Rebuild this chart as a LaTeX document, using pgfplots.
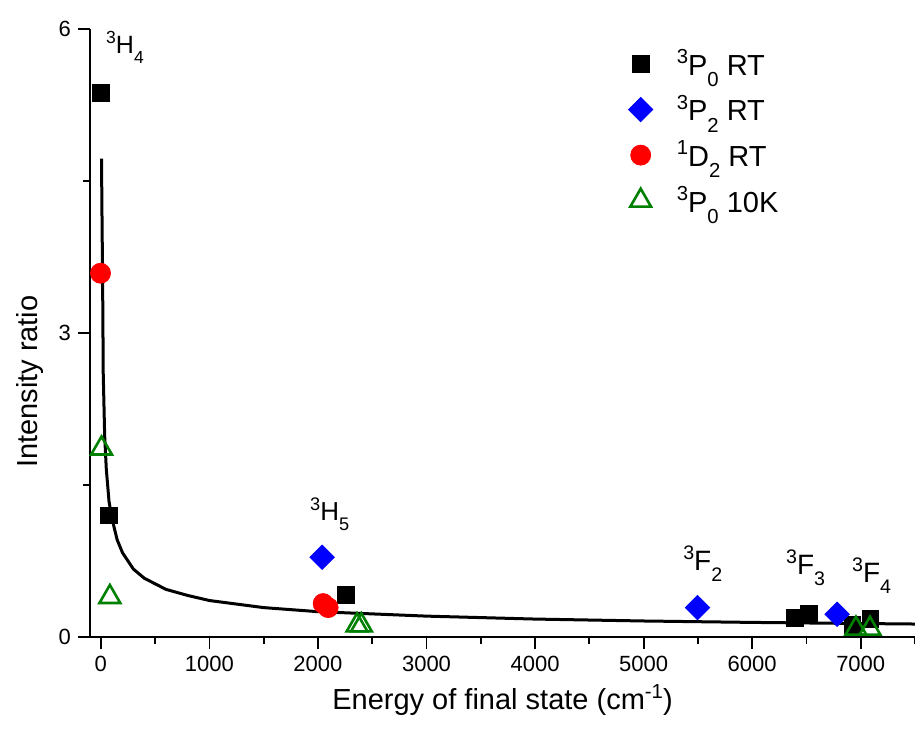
\documentclass[border=0pt]{standalone}
\usepackage{pgfplots}
\pgfplotsset{compat=1.18}
\usepackage{fontspec}
\setmainfont{Liberation Sans}
\newcommand{\sps}[1]{\raisebox{0.75ex}{\scalebox{0.7}{#1}}}
\newcommand{\sbs}[1]{\raisebox{-0.75ex}{\scalebox{0.7}{#1}}}
\definecolor{mygreen}{RGB}{0,128,0}
\begin{document}
\begin{tikzpicture}
\begin{axis}[
  name=ax,
  at={(0,0)}, anchor=south west,
  scale only axis,
  width=412.5pt, height=304pt,
  xmin=-100, xmax=7500,
  ymin=0, ymax=6,
  axis x line*=bottom, axis y line*=left,
  axis line style={line width=1pt},
  xtick={0,1000,...,7000},
  minor xtick={500,1500,...,7500},
  ytick={0,3,6},
  minor ytick={1.5,4.5},
  tick align=outside,
  major tick length=6pt,
  minor tick length=3.5pt,
  every tick/.style={line width=0.9pt, black},
  /pgf/number format/assume math mode=true,
  scaled x ticks=false,
  xticklabel style={/pgf/number format/1000 sep={}},
  tick label style={font=\fontsize{11}{13}\selectfont},
  xlabel={Energy of final state (cm\sps{-1})},
  ylabel={Intensity ratio},
  label style={font=\fontsize{14.5}{16}\selectfont},
  x label style={at={(axis description cs:0.5,-0.104)}, anchor=center},
  y label style={at={(axis description cs:-0.073,0.42)}, anchor=center, rotate=0},
  legend style={at={(rel axis cs:0.645,0.98)}, anchor=north west, draw=none,
    font=\fontsize{14.5}{16}\selectfont, row sep=4.5pt, column sep=10pt, fill=none},
  legend cell align=left,
  clip=false,
]
% fitted curve
\addplot[black, line width=1.5pt, forget plot] coordinates {
(6,4.72) (11,4.10) (16,3.55) (22,2.60) (35,1.99) (50,1.66) (75,1.34) (100,1.18)
(150,0.96) (200,0.83) (300,0.67) (400,0.58) (600,0.47) (800,0.41) (1000,0.36)
(1500,0.29) (2000,0.25) (3000,0.206) (4000,0.177) (5000,0.158) (6000,0.144)
(7000,0.133) (7500,0.128)
};
% 3P0 RT
\addplot[only marks, mark=square*, mark size=4.2pt, black] coordinates {
(-3,5.37) (74,1.20) (2257,0.414) (6394,0.185) (6523,0.225) (6924,0.118) (7090,0.178)
};
\addlegendentry{\sps{3}P\sbs{0} RT}
% 3P2 RT
\addplot[only marks, mark=square*, mark size=4.3pt, mark options={rotate=45}, blue] coordinates {
(2039,0.787) (5497,0.29) (6783,0.224)
};
\addlegendentry{\sps{3}P\sbs{2} RT}
% 1D2 RT
\addplot[only marks, mark=*, mark size=5pt, red] coordinates {
(-3,3.59) (2048,0.33) (2094,0.29)
};
\addlegendentry{\sps{1}D\sbs{2} RT}
% 3P0 10K
\addplot[only marks, mark=triangle, mark size=6pt, mygreen, mark options={line width=1.3pt}] coordinates {
(6,1.86) (83,0.395) (2360,0.115) (2400,0.115) (6956,0.082) (7085,0.082)
};
\addlegendentry{\sps{3}P\sbs{0} 10K}
% state labels
\node[anchor=west, font=\fontsize{12.5}{14}\selectfont, inner sep=0pt] at (axis cs:46,5.82) {\sps{3}H\sbs{4}};
\node[anchor=west, font=\fontsize{13}{14}\selectfont, inner sep=0pt] at (axis cs:1925,1.21) {\sps{3}H\sbs{5}};
\node[anchor=west, font=\fontsize{14}{16}\selectfont, inner sep=0pt] at (axis cs:5362,0.725) {\sps{3}F\sbs{2}};
\node[anchor=west, font=\fontsize{14}{16}\selectfont, inner sep=0pt] at (axis cs:6310,0.686) {\sps{3}F\sbs{3}};
\node[anchor=west, font=\fontsize{14}{16}\selectfont, inner sep=0pt] at (axis cs:6918,0.607) {\sps{3}F\sbs{4}};
\end{axis}
\pgfresetboundingbox
\useasboundingbox (-45pt,-50.5pt) rectangle (412.5pt,318.5pt);
\end{tikzpicture}
\end{document}
